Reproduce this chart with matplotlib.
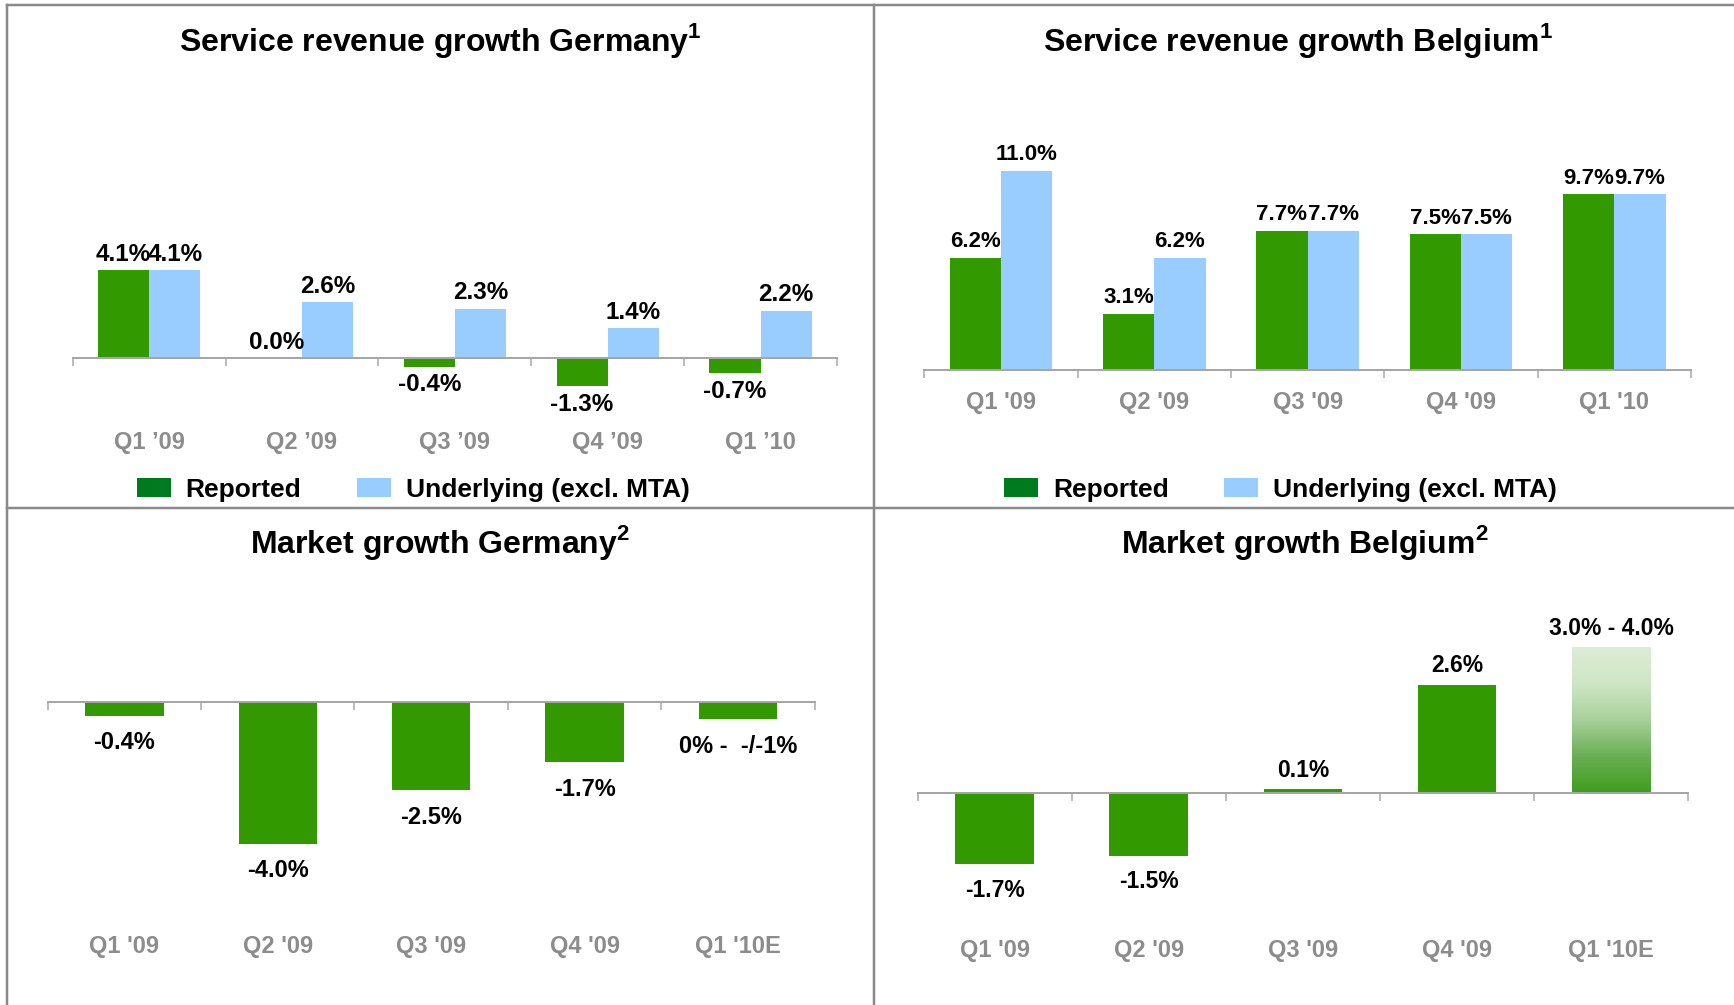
import numpy as np
import matplotlib
matplotlib.use("Agg")
import matplotlib.pyplot as plt
from matplotlib.patches import Patch
from matplotlib.lines import Line2D
from matplotlib.colors import LinearSegmentedColormap
from matplotlib.transforms import blended_transform_factory

plt.rcParams["font.family"] = ["Liberation Sans", "DejaVu Sans"]
plt.rcParams["font.weight"] = "bold"
plt.rcParams["mathtext.fontset"] = "custom"
plt.rcParams["mathtext.rm"] = "Liberation Sans:bold"
plt.rcParams["mathtext.bf"] = "Liberation Sans:bold"

# ---- data ----
quarters_de_sr = ["Q1 \u201909", "Q2 \u201909", "Q3 \u201909", "Q4 \u201909", "Q1 \u201910"]
quarters_be_sr = ["Q1 '09", "Q2 '09", "Q3 '09", "Q4 '09", "Q1 '10"]
quarters_mkt = ["Q1 '09", "Q2 '09", "Q3 '09", "Q4 '09", "Q1 '10E"]

de_reported = [4.1, 0.0, -0.4, -1.3, -0.7]
de_underlying = [4.1, 2.6, 2.3, 1.4, 2.2]
be_reported = [6.2, 3.1, 7.7, 7.5, 9.7]
be_underlying = [11.0, 6.2, 7.7, 7.5, 9.7]

de_market = [-0.4, -4.0, -2.5, -1.7, -0.5]
de_market_labels = ["-0.4%", "-4.0%", "-2.5%", "-1.7%", "0% -  -/-1%"]
be_market = [-1.7, -1.5, 0.1, 2.6, 3.5]
be_market_labels = ["-1.7%", "-1.5%", "0.1%", "2.6%", "3.0% - 4.0%"]

GREEN = "#339900"
LEG_GREEN = "#007a1e"
BLUE = "#99ccff"
AXIS_GRAY = "#a6a6a6"
TICK_GRAY = "#8c8c8c"
FRAME_GRAY = "#8a8a8a"

W, H = 1734, 1005
fig = plt.figure(figsize=(W / 100, H / 100), dpi=100)
PT = 72 / 100  # points per pixel


def panel_axes(x0, x1, y_top, y_bot, base, scale):
    ax = fig.add_axes([x0 / W, 1 - y_bot / H, (x1 - x0) / W, (y_bot - y_top) / H])
    ax.set_xlim(-0.5, 4.5)
    ax.set_ylim(-(y_bot - base) / scale, (base - y_top) / scale)
    for s in ["top", "right", "left"]:
        ax.spines[s].set_visible(False)
    ax.spines["bottom"].set_position(("data", 0))
    ax.spines["bottom"].set_color(AXIS_GRAY)
    ax.spines["bottom"].set_linewidth(2 * PT)
    ax.set_yticks([])
    ax.set_xticks(np.arange(-0.5, 5, 1.0))
    ax.set_xticklabels([])
    ax.tick_params(axis="x", direction="out", length=8 * PT, width=1.5 * PT, color=AXIS_GRAY)
    ax.patch.set_alpha(0)
    return ax


def cat_labels(ax, labels, y_px):
    tr = blended_transform_factory(ax.transData, fig.transFigure)
    for i, lab in enumerate(labels):
        ax.text(i, 1 - y_px / H, lab, transform=tr, ha="center", va="center",
                fontsize=17, color=TICK_GRAY, fontweight="bold")


def value_labels(ax, xs, vals, texts, up_px, down_px, size):
    for x, v, t in zip(xs, vals, texts):
        off = up_px if v >= 0 else -down_px
        ax.annotate(t, (x, v), xytext=(0, off * PT), textcoords="offset points",
                    ha="center", va="center", fontsize=size, fontweight="bold", color="black")


def title(x_px, y_px, txt):
    fig.text(x_px / W, 1 - y_px / H, txt, ha="center", va="center", fontsize=23, fontweight="bold")


def legend(ax, x_px, y_px):
    handles = [Patch(facecolor=LEG_GREEN, edgecolor="none"), Patch(facecolor=BLUE, edgecolor="none")]
    ax.legend(handles, ["Reported", "Underlying (excl. MTA)"], loc="center left",
              bbox_to_anchor=(x_px / W, 1 - y_px / H), bbox_transform=fig.transFigure,
              ncol=2, frameon=False, prop={"weight": "bold", "size": 19},
              handlelength=1.29, handleheight=0.71, handletextpad=0.57,
              columnspacing=2.1, borderpad=0, borderaxespad=0)


x = np.arange(5)
bw = 0.335

# Service revenue growth Germany
ax1 = panel_axes(72.7, 837, 60, 470, 358.3, 21.5)
ax1.bar(x - bw / 2, de_reported, bw, color=GREEN)
ax1.bar(x + bw / 2, de_underlying, bw, color=BLUE)
value_labels(ax1, x - bw / 2, de_reported, [f"{v:.1f}%" for v in de_reported], 16, 18, 17.5)
value_labels(ax1, x + bw / 2, de_underlying, [f"{v:.1f}%" for v in de_underlying], 16, 18, 17.5)
cat_labels(ax1, quarters_de_sr, 443)
legend(ax1, 136.5, 490)
title(440, 40, "Service revenue growth Germany$^{1}$")

# Service revenue growth Belgium
ax2 = panel_axes(924.3, 1691, 60, 470, 370, 18.1)
ax2.bar(x - bw / 2, be_reported, bw, color=GREEN)
ax2.bar(x + bw / 2, be_underlying, bw, color=BLUE)
value_labels(ax2, x - bw / 2, be_reported, [f"{v:.1f}%" for v in be_reported], 16, 18, 16)
value_labels(ax2, x + bw / 2, be_underlying, [f"{v:.1f}%" for v in be_underlying], 16, 18, 16)
cat_labels(ax2, quarters_be_sr, 402)
legend(ax2, 1004, 490)
title(1298, 40, "Service revenue growth Belgium$^{1}$")

mw = 0.51

# Market growth Germany
ax3 = panel_axes(47.7, 814.6, 570, 990, 701.7, 35.5)
ax3.bar(x, de_market, mw, color=GREEN)
value_labels(ax3, x, de_market, de_market_labels, 24, 27, 17)
cat_labels(ax3, quarters_mkt, 946)
title(440, 542, "Market growth Germany$^{2}$")

# Market growth Belgium
ax4 = panel_axes(917.6, 1688, 570, 990, 793.3, 41.7)
bars = ax4.bar(x, be_market, mw, color=[GREEN] * 4 + ["none"])
fade = LinearSegmentedColormap.from_list(
    "fade", [(0, "#3f9c1e"), (0.25, "#6aae55"), (0.5, "#a8d09a"), (0.75, "#cfe6c6"), (1, "#dcedd5")])
last = bars[-1]
grad = np.linspace(0, 1, 256).reshape(-1, 1)
ax4.imshow(grad, cmap=fade, origin="lower", aspect="auto",
           extent=[last.get_x(), last.get_x() + last.get_width(), 0, last.get_height()], zorder=1)
ax4.set_xlim(-0.5, 4.5)
ax4.set_ylim(-(990 - 793.3) / 41.7, (793.3 - 570) / 41.7)
value_labels(ax4, x, be_market, be_market_labels, 19, 26, 16.5)
cat_labels(ax4, quarters_mkt, 950)
title(1305, 542, "Market growth Belgium$^{2}$")


# panel frame
def frame_line(xs, ys):
    fig.add_artist(Line2D([v / W for v in xs], [1 - v / H for v in ys],
                          transform=fig.transFigure, color=FRAME_GRAY, linewidth=2.5 * PT))


frame_line([7, W], [5, 5])
frame_line([7, 7], [5, H])
frame_line([874, 874], [5, H])
frame_line([7, W], [508, 508])

fig.savefig("out.png", dpi=100, facecolor="white")
